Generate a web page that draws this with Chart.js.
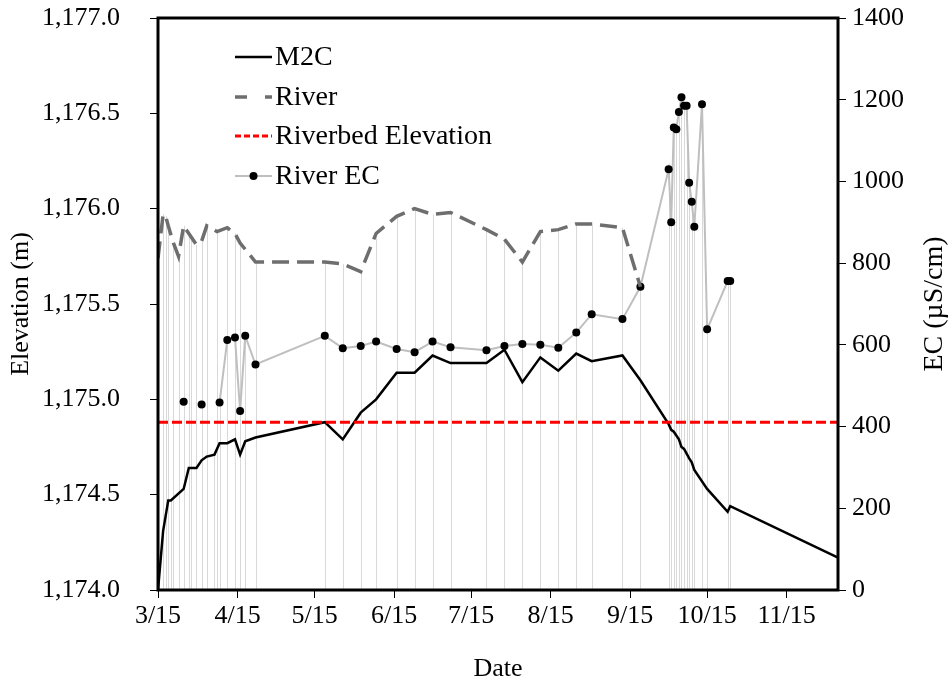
<!DOCTYPE html>
<html>
<head>
<meta charset="utf-8">
<script src="https://cdn.jsdelivr.net/npm/chart.js@4.4.0/dist/chart.umd.min.js"></script>
<style>
  html, body { margin: 0; padding: 0; background: #fff; }
  #wrap { width: 951px; height: 687px; }
</style>
</head>
<body>
<div id="wrap"><canvas id="myChart" width="951" height="687"></canvas></div>
<script>
// days since 3/15
const days = [0,2,3,4,5,6,8,10,12,13,15,17,19,22,23,24,27,30,32,34,38,
  65,72,79,85,93,100,107,114,128,135,142,149,156,163,169,181,188,
  199,200,201,202,203,204,205,206,207,208,209,212,214,222,223,265];
const m2c = [1174.00,1174.31,null,1174.47,1174.47,null,null,1174.53,1174.64,null,1174.64,1174.68,1174.70,1174.71,null,1174.77,1174.77,1174.79,1174.71,1174.78,1174.80,
  1174.88,1174.79,1174.93,1175.00,1175.14,1175.14,1175.23,1175.19,1175.19,1175.26,1175.09,1175.22,1175.15,1175.24,1175.20,1175.23,1175.10,
  1174.87,1174.84,1174.83,null,1174.79,1174.75,1174.74,null,1174.69,1174.67,1174.63,null,1174.53,1174.41,1174.44,1174.17];
const river = [1175.74,1175.97,1175.96,1175.91,null,1175.82,1175.75,1175.91,1175.87,1175.85,1175.81,1175.83,1175.91,null,1175.88,null,1175.90,1175.87,1175.82,null,1175.72,
  1175.72,1175.71,1175.67,1175.87,1175.96,1176.00,1175.97,1175.98,1175.89,1175.84,1175.72,1175.88,1175.89,1175.92,1175.92,1175.90,1175.59,
  null,null,null,null,null,null,null,null,null,null,null,null,null,null,null,null];
const riverEC = [null,null,null,null,null,null,null,461,null,null,null,454,null,null,null,459,612,618,438,622,552,
  622,592,597,608,590,582,608,594,587,597,602,600,593,630,675,663,742,
  1030,900,1132,1128,1170,1206,1185,1185,997,950,889,1189,638,756,756,null];
const riverbed = 1174.88;
const xMin = 0, xMax = 265;
const tickDays = [0,31,61,92,122,153,184,214,245];
const tickLabels = ['3/15','4/15','5/15','6/15','7/15','8/15','9/15','10/15','11/15'];

const FONT = 'Liberation Serif';

function pts(vals) {
  return days.map((d, i) => ({ x: d, y: vals[i] }));
}

// thin gray lines from the highest mark at each date down to the x axis
const dropLines = {
  id: 'dropLines',
  beforeDatasetsDraw(chart) {
    const { ctx, chartArea: { bottom }, scales } = chart;
    ctx.save();
    ctx.strokeStyle = '#d9d9d9';
    ctx.lineWidth = 1;
    days.forEach((d, i) => {
      let top = Infinity;
      if (m2c[i] != null) top = Math.min(top, scales.y.getPixelForValue(m2c[i]));
      if (river[i] != null) top = Math.min(top, scales.y.getPixelForValue(river[i]));
      if (riverEC[i] != null) top = Math.min(top, scales.y2.getPixelForValue(riverEC[i]));
      if (top === Infinity) return;
      const x = Math.round(scales.x.getPixelForValue(d)) + 0.5;
      ctx.beginPath();
      ctx.moveTo(x, top);
      ctx.lineTo(x, bottom);
      ctx.stroke();
    });
    ctx.restore();
  }
};

// frame, legend inside the plot, right axis title
const frame = {
  id: 'frame',
  afterDraw(chart) {
    const { ctx, chartArea: { left, right, top, bottom } } = chart;
    ctx.save();
    ctx.strokeStyle = '#000';
    ctx.lineWidth = 3;
    ctx.strokeRect(left, top, right - left, bottom - top);

    // legend
    const rows = [57, 97, 136, 176];
    ctx.font = `28px "${FONT}"`;
    ctx.textBaseline = 'middle';
    ctx.textAlign = 'left';
    chart.data.datasets.forEach((ds, i) => {
      const y = rows[i];
      ctx.save();
      ctx.strokeStyle = ds.borderColor;
      ctx.lineWidth = ds.borderWidth;
      ctx.setLineDash(ds.legendDash || ds.borderDash || []);
      ctx.beginPath();
      ctx.moveTo(235, y);
      ctx.lineTo(272, y);
      ctx.stroke();
      if (ds.pointRadius > 0) {
        ctx.setLineDash([]);
        ctx.fillStyle = ds.pointBackgroundColor;
        ctx.beginPath();
        ctx.arc(253.5, y, ds.pointRadius, 0, Math.PI * 2);
        ctx.fill();
      }
      ctx.restore();
      ctx.fillStyle = '#000';
      ctx.fillText(ds.label, 275, y + 1);
    });

    // right axis title, read bottom to top like the left one
    ctx.translate(935, 304);
    ctx.rotate(-Math.PI / 2);
    ctx.textAlign = 'center';
    ctx.fillStyle = '#000';
    ctx.fillText('EC (µS/cm)', 0, 0);
    ctx.restore();
  }
};

// keep the plot box fixed whatever the label padding
function fixY(width) {
  return (scale) => {
    scale.width = width;
    scale.paddingTop = 0;
    scale.paddingBottom = 0;
  };
}

const ctx = document.getElementById('myChart').getContext('2d');
const myChart = new Chart(ctx, {
  type: 'line',
  data: {
    datasets: [{
      label: 'M2C',
      data: pts(m2c),
      yAxisID: 'y',
      borderColor: '#000000',
      borderWidth: 2.5,
      pointRadius: 0,
      spanGaps: true,
      order: 2
    }, {
      label: 'River',
      data: pts(river),
      yAxisID: 'y',
      borderColor: '#6e6e6e',
      borderWidth: 3.5,
      borderDash: [17, 8],
      legendDash: [12, 18],
      pointRadius: 0,
      spanGaps: true,
      order: 3
    }, {
      label: 'Riverbed Elevation',
      data: [{ x: xMin, y: riverbed }, { x: xMax, y: riverbed }],
      yAxisID: 'y',
      borderColor: '#ff0000',
      borderWidth: 3,
      borderDash: [10, 4],
      legendDash: [6, 3],
      pointRadius: 0,
      order: 1
    }, {
      label: 'River EC',
      data: pts(riverEC),
      yAxisID: 'y2',
      borderColor: '#bfbfbf',
      borderWidth: 2,
      pointRadius: 4,
      pointBackgroundColor: '#000000',
      pointBorderColor: '#000000',
      pointBorderWidth: 0,
      spanGaps: false,
      order: 4
    }]
  },
  options: {
    responsive: false,
    animation: false,
    layout: { padding: { top: 18, right: 0, left: 0, bottom: 0 } },
    plugins: {
      legend: { display: false },
      tooltip: { enabled: false }
    },
    scales: {
      x: {
        type: 'linear',
        min: xMin,
        max: xMax,
        afterBuildTicks: (scale) => { scale.ticks = tickDays.map(v => ({ value: v })); },
        afterFit: (scale) => { scale.height = 97; },
        border: { display: false },
        grid: { drawOnChartArea: false, drawTicks: true, tickLength: 8, color: '#000' },
        ticks: {
          maxRotation: 0,
          autoSkip: false,
          padding: 3,
          color: '#000',
          font: { family: FONT, size: 26 },
          callback: (v) => tickLabels[tickDays.indexOf(v)]
        },
        title: {
          display: true,
          text: 'Date',
          color: '#000',
          font: { family: FONT, size: 26 },
          padding: { top: 0, bottom: 2 }
        }
      },
      y: {
        position: 'left',
        min: 1174,
        max: 1177,
        afterFit: fixY(158),
        border: { display: false },
        grid: { drawOnChartArea: false, drawTicks: true, tickLength: 8, color: '#000' },
        ticks: {
          stepSize: 0.5,
          padding: 30,
          color: '#000',
          font: { family: FONT, size: 26 },
          callback: (v) => v.toLocaleString('en-US', { minimumFractionDigits: 1, maximumFractionDigits: 1 })
        },
        title: {
          display: true,
          text: 'Elevation (m)',
          color: '#000',
          font: { family: FONT, size: 26 },
          padding: { top: 6, bottom: 0 }
        }
      },
      y2: {
        position: 'right',
        min: 0,
        max: 1400,
        afterFit: fixY(113),
        border: { display: false },
        grid: { drawOnChartArea: false, drawTicks: true, tickLength: 8, color: '#000' },
        ticks: {
          stepSize: 200,
          padding: 6,
          color: '#000',
          font: { family: FONT, size: 26 },
          callback: (v) => String(v)
        }
      }
    }
  },
  plugins: [dropLines, frame]
});
</script>
</body>
</html>
